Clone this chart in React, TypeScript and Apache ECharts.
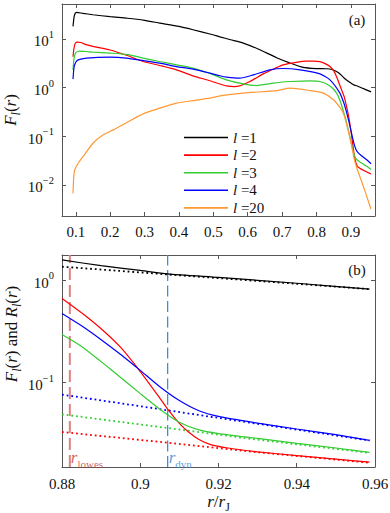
import React, { useEffect, useRef } from 'react';
import * as echarts from 'echarts';

const FONT = 'Liberation Serif';
const AX = '#555555';
const TXT = '#111111';

// ---------- Panel (a): F_l(r), part below r = 0.88 ----------
const l1Head: [number, number][] = [
  [0.092, 18], [0.095, 28], [0.098, 33], [0.102, 35], [0.12, 33.5], [0.15, 31.3], [0.2, 28.5],
  [0.25, 26.5], [0.3, 24], [0.344, 21.1], [0.4, 18], [0.441, 15.4], [0.49, 12.6], [0.519, 11],
  [0.55, 9.6], [0.587, 8.2], [0.63, 6.2], [0.684, 4.1], [0.72, 3.25], [0.761, 2.6], [0.8, 2.45],
  [0.829, 2.43], [0.845, 2.35], [0.858, 2.13], [0.87, 1.85],
];
const l2Head: [number, number][] = [
  [0.092, 4.3], [0.095, 6.5], [0.099, 8.2], [0.105, 8.6], [0.115, 8.4], [0.13, 7.6], [0.15, 7.0],
  [0.2, 5.9], [0.2475, 4.6], [0.296, 3.43], [0.344, 2.84], [0.393, 2.31], [0.441, 1.74], [0.49, 1.38],
  [0.519, 1.18], [0.538, 1.08], [0.56, 1.04], [0.58, 1.1], [0.606, 1.33], [0.645, 1.91], [0.68, 2.5],
  [0.703, 2.93], [0.74, 3.3], [0.771, 3.5], [0.79, 3.5], [0.81, 3.4], [0.825, 3.1], [0.839, 2.7],
  [0.85, 2.2], [0.858, 1.68], [0.868, 1.1],
];
const l3Head: [number, number][] = [
  [0.092, 2.3], [0.095, 4.0], [0.1, 5.2], [0.11, 5.6], [0.13, 5.5], [0.15, 5.35], [0.2, 5.1],
  [0.2475, 4.8], [0.296, 4.03], [0.344, 3.43], [0.393, 2.93], [0.441, 2.51], [0.49, 1.95], [0.538, 1.44],
  [0.587, 1.19], [0.626, 1.1], [0.665, 1.2], [0.7, 1.3], [0.723, 1.33], [0.781, 1.37], [0.81, 1.33],
  [0.839, 1.08], [0.858, 0.78], [0.87, 0.5],
];
const l4Head: [number, number][] = [
  [0.092, 1.49], [0.095, 2.6], [0.1, 3.3], [0.107, 3.7], [0.131, 4.03], [0.2, 4.22], [0.2475, 4.03],
  [0.296, 3.59], [0.344, 3.18], [0.393, 2.7], [0.441, 2.39], [0.49, 1.98], [0.519, 1.75], [0.538, 1.64],
  [0.577, 1.56], [0.616, 1.82], [0.665, 2.31], [0.703, 2.46], [0.752, 2.31], [0.81, 1.91], [0.839, 1.44],
  [0.868, 0.77],
];
const l20: [number, number][] = [
  [0.092, 0.0067], [0.094, 0.014], [0.097, 0.0203], [0.107, 0.0278], [0.121, 0.038], [0.15, 0.0718],
  [0.179, 0.106], [0.209, 0.135], [0.2475, 0.19], [0.296, 0.288], [0.344, 0.377], [0.393, 0.478],
  [0.441, 0.54], [0.49, 0.605], [0.519, 0.675], [0.587, 0.77], [0.684, 0.867], [0.723, 0.97],
  [0.781, 0.867], [0.82, 0.77], [0.849, 0.56], [0.873, 0.347], [0.88, 0.27], [0.89, 0.15], [0.9, 0.075],
  [0.905, 0.05], [0.91, 0.033], [0.915, 0.025], [0.92, 0.0195], [0.94, 0.0078], [0.958, 0.0032],
];

// ---------- Panel (b): F_l(r) (solid) and R_l(r) (dotted), r >= 0.88 ----------
const fL1: [number, number][] = [
  [0.88, 1.57], [0.89, 1.38], [0.9, 1.24], [0.907, 1.15], [0.92, 1.06], [0.94, 0.93], [0.9586, 0.815],
];
const fL2: [number, number][] = [
  [0.88, 0.662], [0.885, 0.48], [0.89, 0.335], [0.895, 0.22], [0.9, 0.128], [0.9045, 0.075],
  [0.9075, 0.052], [0.91, 0.04], [0.9125, 0.0325], [0.915, 0.0278], [0.918, 0.0248], [0.922, 0.0231],
  [0.93, 0.0211], [0.94, 0.0194], [0.95, 0.0179], [0.9586, 0.0167],
];
const fL3: [number, number][] = [
  [0.88, 0.294], [0.885, 0.225], [0.89, 0.16], [0.895, 0.112], [0.9, 0.078], [0.905, 0.055],
  [0.91, 0.041], [0.915, 0.0345], [0.92, 0.0318], [0.93, 0.0285], [0.94, 0.0255], [0.95, 0.023],
  [0.9586, 0.0208],
];
const fL4: [number, number][] = [
  [0.88, 0.472], [0.885, 0.358], [0.89, 0.262], [0.895, 0.188], [0.9, 0.1315], [0.905, 0.091],
  [0.91, 0.0667], [0.915, 0.053], [0.92, 0.0467], [0.93, 0.0402], [0.94, 0.0352], [0.95, 0.031],
  [0.9586, 0.0273],
];
const rL1: [number, number][] = [[0.88, 1.35], [0.907, 1.134], [0.93, 0.98], [0.9586, 0.815]];
const rL2: [number, number][] = [[0.88, 0.0329], [0.907, 0.0259], [0.93, 0.0209], [0.9586, 0.0165]];
const rL3: [number, number][] = [[0.88, 0.049], [0.907, 0.036], [0.93, 0.0277], [0.9586, 0.0206]];
const rL4: [number, number][] = [[0.88, 0.0763], [0.907, 0.0536], [0.93, 0.0396], [0.9586, 0.0272]];

const rLowes = 0.882;
const rDyn = 0.907;
const markerLabelY = 0.0178;

// axis limits
const xLimA = [0.06, 0.97];
const yLimA = [0.0023, 52];
const xLimB = [0.88, 0.96];
const yLimB = [0.015, 1.755];

const legendNames = ['l1', 'l2', 'l3', 'l4', 'l20'];
const colors = { l1: '#000000', l2: '#ff0000', l3: '#33cc33', l4: '#0000ff', l20: '#ff9933' };

const mathRich: any = {
  i: { fontFamily: FONT, fontStyle: 'italic', fontSize: 17, lineHeight: 17, verticalAlign: 'top', color: TXT, fill: TXT },
  n: { fontFamily: FONT, fontSize: 17, lineHeight: 17, verticalAlign: 'top', color: TXT, fill: TXT },
  sub: { fontFamily: FONT, fontStyle: 'italic', fontSize: 12, lineHeight: 20, verticalAlign: 'bottom', color: TXT, fill: TXT },
  subr: { fontFamily: FONT, fontSize: 12, lineHeight: 20, verticalAlign: 'bottom', color: TXT, fill: TXT },
};

const logLabel = (v: number) => {
  const e = Math.round(Math.log10(v));
  return `{b|10}{s|${e < 0 ? '\u2212' + -e : e}}`;
};
const logRich = {
  b: { fontFamily: FONT, fontSize: 15, lineHeight: 20, verticalAlign: 'bottom', color: TXT },
  s: { fontFamily: FONT, fontSize: 10.5, lineHeight: 12, verticalAlign: 'top', color: TXT },
};

function frameAxis(extra: any) {
  return {
    axisLine: { show: true, onZero: false, lineStyle: { color: AX, width: 1 } },
    axisTick: { show: true, inside: true, length: 4, lineStyle: { color: AX } },
    splitLine: { show: false },
    minorTick: { show: false },
    ...extra,
  };
}

function line(name: string, data: [number, number][], color: string, ai: number, dotted = false) {
  return {
    type: 'line',
    name,
    data,
    xAxisIndex: ai,
    yAxisIndex: ai,
    symbol: 'none',
    showSymbol: false,
    smooth: dotted ? false : 0.2,
    silent: true,
    lineStyle: dotted
      ? { color, width: 1.8, type: [1.8, 2.9], cap: 'butt' }
      : { color, width: 1.2 },
    itemStyle: { color },
  };
}

function vline(name: string, x: number, color: string, width: number, dash: number[]) {
  return {
    type: 'line',
    name,
    data: [[x, yLimB[0]], [x, yLimB[1]]],
    xAxisIndex: 2,
    yAxisIndex: 2,
    symbol: 'none',
    silent: true,
    z: 1,
    lineStyle: { color, width, type: dash },
    itemStyle: { color },
  };
}

function yName(text: string, x: number, y: number) {
  return {
    type: 'text', x, y, rotation: Math.PI / 2,
    style: { text, rich: mathRich, font: `17px ${FONT}`, fill: TXT, align: 'center', verticalAlign: 'middle' },
  };
}

export default function App() {
  const ref = useRef<HTMLDivElement>(null);
  useEffect(() => {
    if (!ref.current) return;
    const chart = echarts.init(ref.current, undefined, { renderer: 'svg' });
    const option: any = {
      animation: false,
      backgroundColor: '#ffffff',
      textStyle: { fontFamily: FONT },
      grid: [
        { left: 62, top: 4, width: 313, height: 212, outerBoundsMode: 'none' },
        { left: 62, top: 255, width: 313, height: 212, outerBoundsMode: 'none' },
      ],
      xAxis: [
        frameAxis({
          type: 'value', gridIndex: 0, position: 'bottom', min: xLimA[0], max: xLimA[1], splitNumber: 9,
          axisLabel: { show: true, showMinLabel: false, showMaxLabel: false, margin: 8, fontFamily: FONT, fontSize: 15, color: TXT },
        }),
        frameAxis({
          type: 'value', gridIndex: 0, position: 'top', min: xLimA[0], max: xLimA[1], splitNumber: 9,
          axisLabel: { show: false },
        }),
        frameAxis({
          type: 'value', gridIndex: 1, position: 'bottom', min: xLimB[0], max: xLimB[1], interval: 0.02,
          axisLabel: { show: true, margin: 9, fontFamily: FONT, fontSize: 15, color: TXT },
          name: '{i|r}{n|/}{i|r}{subr|J}',
          nameLocation: 'middle',
          nameGap: 26,
          nameTextStyle: { rich: mathRich },
        }),
        frameAxis({
          type: 'value', gridIndex: 1, position: 'top', min: xLimB[0], max: xLimB[1], interval: 0.02,
          axisLabel: { show: false },
        }),
      ],
      yAxis: [
        frameAxis({
          type: 'log', logBase: 10, gridIndex: 0, position: 'left', min: yLimA[0], max: yLimA[1],
          axisLabel: { show: true, showMinLabel: false, showMaxLabel: false, margin: 8, formatter: logLabel, rich: logRich },
        }),
        frameAxis({
          type: 'log', logBase: 10, gridIndex: 0, position: 'right', min: yLimA[0], max: yLimA[1],
          axisLabel: { show: false },
        }),
        frameAxis({
          type: 'log', logBase: 10, gridIndex: 1, position: 'left', min: yLimB[0], max: yLimB[1],
          axisLabel: { show: true, showMinLabel: false, showMaxLabel: false, margin: 8, formatter: logLabel, rich: logRich },
        }),
        frameAxis({
          type: 'log', logBase: 10, gridIndex: 1, position: 'right', min: yLimB[0], max: yLimB[1],
          axisLabel: { show: false },
        }),
      ],
      legend: {
        data: legendNames,
        orient: 'vertical',
        left: 179,
        top: 125,
        icon: 'rect',
        itemWidth: 44,
        itemHeight: 1.6,
        itemGap: 2.6,
        selectedMode: false,
        formatter: (n: string) => `{i|l} =${n.slice(1)}`,
        textStyle: {
          fontFamily: FONT, fontSize: 15, lineHeight: 15, color: TXT,
          rich: { i: { fontFamily: FONT, fontStyle: 'italic', fontSize: 15, lineHeight: 15, color: TXT } },
        },
      },
      graphic: [
        { type: 'text', x: 357, y: 19.5, style: { text: '(a)', font: `15px ${FONT}`, fill: TXT, align: 'center', verticalAlign: 'middle' } },
        { type: 'text', x: 357, y: 270, style: { text: '(b)', font: `15px ${FONT}`, fill: TXT, align: 'center', verticalAlign: 'middle' } },
        yName('{i|F}{sub|l}{n|(}{i|r}{n|)}', 12, 110),
        yName('{i|F}{sub|l}{n|(}{i|r}{n|) and }{i|R}{sub|l}{n|(}{i|r}{n|)}', 13, 334),
      ],
      series: [
        line('l1', [...l1Head, ...fL1], colors.l1, 0),
        line('l2', [...l2Head, ...fL2], colors.l2, 0),
        line('l3', [...l3Head, ...fL3], colors.l3, 0),
        line('l4', [...l4Head, ...fL4], colors.l4, 0),
        line('l20', l20, colors.l20, 0),
        vline('rLowesLine', rLowes, '#e08080', 2, [12, 5]),
        vline('rDynLine', rDyn, '#3a8ede', 1.3, [11, 4.5]),
        line('R1', rL1, colors.l1, 2, true),
        line('R2', rL2, colors.l2, 2, true),
        line('R3', rL3, colors.l3, 2, true),
        line('R4', rL4, colors.l4, 2, true),
        line('F1', fL1, colors.l1, 2),
        line('F2', fL2, colors.l2, 2),
        line('F3', fL3, colors.l3, 2),
        line('F4', fL4, colors.l4, 2),
        {
          type: 'scatter',
          name: 'markers',
          xAxisIndex: 2,
          yAxisIndex: 2,
          symbolSize: 0,
          silent: true,
          data: [
            { value: [rLowes, markerLabelY], label: { formatter: '{i|r}{sub|lowes}', color: '#c23b3b' } },
            { value: [rDyn, markerLabelY], label: { formatter: '{i|r}{sub|dyn}', color: '#2f86d6' } },
          ],
          label: {
            show: true,
            position: 'right',
            distance: 1,
            rich: {
              i: { fontFamily: FONT, fontStyle: 'italic', fontSize: 17, lineHeight: 17, verticalAlign: 'top' },
              sub: { fontFamily: FONT, fontSize: 11, lineHeight: 20, verticalAlign: 'bottom' },
            },
          },
        },
      ],
    };
    chart.setOption(option);
    return () => chart.dispose();
  }, []);
  return <div ref={ref} style={{ position: 'absolute', left: 0, top: 0, width: 390, height: 513 }} />;
}
